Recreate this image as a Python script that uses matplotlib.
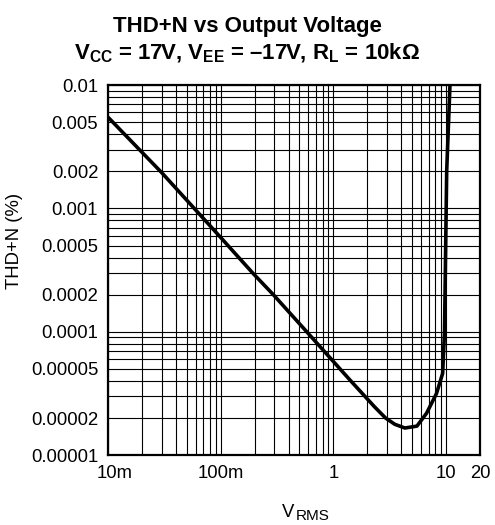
import numpy as np
import matplotlib
matplotlib.use("Agg")
import matplotlib.pyplot as plt
from matplotlib.ticker import FixedLocator, LogLocator, NullFormatter
from matplotlib.transforms import ScaledTranslation

plt.rcParams['font.family'] = ['Liberation Sans', 'DejaVu Sans']
plt.rcParams['mathtext.fontset'] = 'custom'
plt.rcParams['mathtext.rm'] = 'Liberation Sans'
plt.rcParams['mathtext.it'] = 'Liberation Sans'
plt.rcParams['mathtext.bf'] = 'Liberation Sans:bold'

# curve
vrms = [0.01, 0.03, 0.0986, 0.194, 0.293, 0.58, 1.4, 2.3, 2.9, 3.5,
        4.3, 5.5, 6.7, 8.2, 9.3, 9.66, 10.1, 10.8]
thdn = [0.0055, 0.00195, 0.00059, 0.000297, 0.0002, 0.0001, 0.0000407,
        0.0000248, 0.00002, 0.0000178, 0.0000166, 0.0000172, 0.0000219,
        0.0000316, 0.000046, 0.0001, 0.002, 0.01]

x_ticks = [0.01, 0.1, 1, 10, 20]
x_labels = ['10m', '100m', '1', '10', '20']
y_ticks = [0.01, 0.005, 0.002, 0.001, 0.0005, 0.0002, 0.0001,
           0.00005, 0.00002, 0.00001]
y_labels = ['0.01', '0.005', '0.002', '0.001', '0.0005', '0.0002',
            '0.0001', '0.00005', '0.00002', '0.00001']

fig = plt.figure(figsize=(4.95, 5.25), dpi=100)
ax = fig.add_axes([0.218, 0.133, 0.752, 0.705])

ax.plot(vrms, thdn, color='black', lw=2.6, solid_capstyle='butt', zorder=3)

ax.set_xscale('log')
ax.set_yscale('log')
ax.set_xlim(0.01, 20)
ax.set_ylim(0.00001, 0.01)

ax.xaxis.set_major_locator(FixedLocator(x_ticks))
ax.set_xticklabels(x_labels)
ax.yaxis.set_major_locator(FixedLocator(y_ticks))
ax.set_yticklabels(y_labels)
ax.xaxis.set_minor_locator(LogLocator(base=10, subs=np.arange(2, 10)))
ax.yaxis.set_minor_locator(LogLocator(base=10, subs=np.arange(2, 10)))
ax.xaxis.set_minor_formatter(NullFormatter())
ax.yaxis.set_minor_formatter(NullFormatter())

ax.grid(True, which='both', color='black', lw=0.8)
ax.tick_params(which='both', length=0, labelsize=13.3, pad=7)
for s in ax.spines.values():
    s.set_linewidth(1.6)

# "10m" sits a little right of its gridline in the reference
lab = ax.get_xticklabels()[0]
lab.set_transform(lab.get_transform() + ScaledTranslation(0.07, 0, fig.dpi_scale_trans))

fig.text(0.5, 0.939, 'THD+N vs Output Voltage', ha='center', va='baseline',
         fontsize=16, fontweight='bold')
fig.text(0.5, 0.886,
         r'V$_{\mathbf{CC}}$ = 17V, V$_{\mathbf{EE}}$ = –17V, R$_{\mathbf{L}}$ = 10kΩ',
         ha='center', va='baseline', fontsize=16, fontweight='bold')
fig.text(282 / 495, 0.0152, 'V', ha='left', va='baseline', fontsize=13.3)
fig.text(296 / 495, 0.0095, 'RMS', ha='left', va='baseline', fontsize=11)
fig.text(0.03, 0.541, 'THD+N (%)', ha='center', va='center', rotation=90, fontsize=13.3)

fig.savefig('out.png', dpi=100)
